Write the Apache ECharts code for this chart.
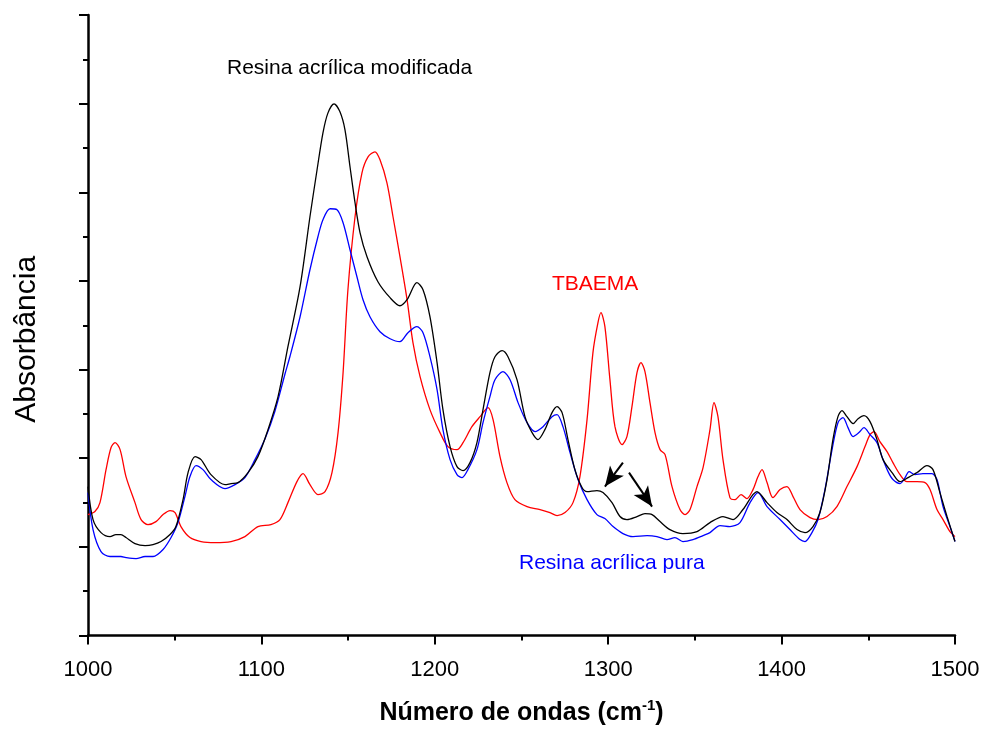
<!DOCTYPE html>
<html>
<head>
<meta charset="utf-8">
<title>FTIR</title>
<script src="https://cdn.jsdelivr.net/npm/echarts@6/dist/echarts.min.js"></script>
<style>
  html, body { margin: 0; padding: 0; background: #fff; }
  #chart { width: 984px; height: 731px; }
</style>
</head>
<body>
<div id="chart"></div>
<script>
// resina acrilica modificada (preto)
var modWave = [1000, 1002.9, 1007.5, 1012.7, 1016.1, 1019.0, 1021.9, 1027.1, 1032.9, 1037.5, 1042.1, 1047.3, 1050.7, 1054.8, 1057.7, 1061.7, 1065.2, 1070.9, 1079.0, 1082.5, 1086.5, 1092.3, 1098.0, 1103.8, 1109.6, 1115.3, 1122.3, 1128.0, 1132.1, 1135.5, 1138.4, 1141.9, 1145.3, 1148.2, 1151.1, 1154.0, 1156.9, 1160.9, 1167.2, 1174.2, 1179.9, 1184.0, 1189.7, 1193.2, 1197.2, 1201.3, 1204.7, 1208.8, 1212.8, 1216.3, 1220.3, 1224.3, 1227.8, 1231.8, 1234.7, 1238.8, 1242.2, 1247.4, 1252.0, 1256.1, 1259.5, 1263.5, 1267.6, 1270.5, 1273.4, 1276.8, 1280.8, 1284.9, 1287.8, 1293.5, 1297.0, 1302.2, 1306.8, 1310.8, 1316.6, 1321.2, 1325.3, 1329.9, 1335.6, 1343.1, 1351.2, 1358.7, 1366.2, 1372.0, 1377.7, 1385.8, 1391.6, 1397.3, 1403.1, 1408.9, 1413.5, 1418.1, 1422.1, 1426.2, 1429.6, 1432.5, 1434.8, 1437.7, 1441.2, 1444.1, 1447.5, 1451.0, 1455.0, 1458.5, 1463.7, 1468.3, 1472.9, 1478.1, 1483.8, 1487.3, 1491.3, 1495.4, 1500];
var modAbs = [1.680, 1.308, 1.161, 1.116, 1.139, 1.139, 1.105, 1.037, 1.015, 1.026, 1.060, 1.139, 1.229, 1.533, 1.838, 2.018, 1.984, 1.815, 1.702, 1.714, 1.725, 1.838, 2.018, 2.322, 2.694, 3.258, 3.935, 4.724, 5.254, 5.671, 5.896, 5.998, 5.908, 5.705, 5.288, 4.882, 4.543, 4.273, 3.991, 3.811, 3.720, 3.788, 3.980, 3.901, 3.596, 3.078, 2.548, 2.131, 1.905, 1.860, 1.950, 2.176, 2.548, 2.965, 3.145, 3.213, 3.145, 2.886, 2.469, 2.289, 2.210, 2.322, 2.514, 2.582, 2.514, 2.210, 1.871, 1.669, 1.623, 1.635, 1.612, 1.499, 1.342, 1.308, 1.342, 1.375, 1.364, 1.285, 1.195, 1.150, 1.172, 1.274, 1.342, 1.308, 1.421, 1.623, 1.499, 1.387, 1.308, 1.195, 1.161, 1.229, 1.387, 1.759, 2.210, 2.469, 2.537, 2.469, 2.390, 2.446, 2.480, 2.413, 2.210, 1.984, 1.838, 1.736, 1.781, 1.838, 1.917, 1.871, 1.612, 1.342, 1.060];

// resina acrilica pura (azul)
var pureWave = [1000, 1002.9, 1007.5, 1012.7, 1019.0, 1021.9, 1027.7, 1032.9, 1037.5, 1043.3, 1047.9, 1051.9, 1055.9, 1058.8, 1062.3, 1066.3, 1070.9, 1079.0, 1084.8, 1090.5, 1096.3, 1102.1, 1107.8, 1113.6, 1116.5, 1122.3, 1128.0, 1132.6, 1135.5, 1139.6, 1143.6, 1147.1, 1151.1, 1155.1, 1158.6, 1162.6, 1168.4, 1174.2, 1179.9, 1184.5, 1189.7, 1193.2, 1197.2, 1201.3, 1204.7, 1208.8, 1212.8, 1215.7, 1219.1, 1224.3, 1227.8, 1231.8, 1234.7, 1239.3, 1243.4, 1248.0, 1253.2, 1257.8, 1262.4, 1267.6, 1270.5, 1273.9, 1278.0, 1282.6, 1287.8, 1293.5, 1298.1, 1302.8, 1308.5, 1314.3, 1322.4, 1328.1, 1333.9, 1338.5, 1343.1, 1348.9, 1354.7, 1358.7, 1364.5, 1370.2, 1376.0, 1381.8, 1386.4, 1391.6, 1399.1, 1404.8, 1410.6, 1413.5, 1417.5, 1421.0, 1425.0, 1429.1, 1432.5, 1435.4, 1438.3, 1441.2, 1444.6, 1447.5, 1451.0, 1455.0, 1457.9, 1461.4, 1464.2, 1468.3, 1471.2, 1473.5, 1476.9, 1481.5, 1486.7, 1489.6, 1493.1, 1497.1, 1500];
var pureAbs = [1.612, 1.195, 0.947, 0.891, 0.891, 0.879, 0.868, 0.891, 0.891, 0.970, 1.105, 1.274, 1.567, 1.793, 1.917, 1.871, 1.759, 1.657, 1.702, 1.781, 1.984, 2.220, 2.530, 2.950, 3.150, 3.596, 4.126, 4.498, 4.690, 4.814, 4.803, 4.656, 4.352, 4.047, 3.788, 3.596, 3.427, 3.348, 3.315, 3.416, 3.484, 3.416, 3.145, 2.773, 2.322, 1.984, 1.815, 1.781, 1.871, 2.097, 2.401, 2.694, 2.886, 2.976, 2.886, 2.627, 2.401, 2.300, 2.356, 2.469, 2.492, 2.356, 2.063, 1.759, 1.533, 1.364, 1.319, 1.229, 1.150, 1.116, 1.127, 1.116, 1.082, 1.105, 1.060, 1.082, 1.127, 1.161, 1.240, 1.229, 1.274, 1.499, 1.612, 1.454, 1.308, 1.195, 1.082, 1.060, 1.161, 1.308, 1.646, 2.097, 2.401, 2.458, 2.345, 2.244, 2.289, 2.345, 2.266, 2.176, 2.018, 1.849, 1.759, 1.714, 1.781, 1.849, 1.815, 1.826, 1.826, 1.759, 1.454, 1.229, 1.060];

// TBAEMA (vermelho)
var tbaWave = [1000, 1004.0, 1006.9, 1010.4, 1013.3, 1015.6, 1018.5, 1021.9, 1027.1, 1030.6, 1034.6, 1039.2, 1043.3, 1047.3, 1050.2, 1053.6, 1058.8, 1065.2, 1073.2, 1082.5, 1090.5, 1098.0, 1105.5, 1110.7, 1115.3, 1120.5, 1124.0, 1128.0, 1132.6, 1136.7, 1140.7, 1144.2, 1147.1, 1149.9, 1154.0, 1158.0, 1161.5, 1165.5, 1168.4, 1172.4, 1175.9, 1179.9, 1184.0, 1187.4, 1191.5, 1197.2, 1203.0, 1207.6, 1212.8, 1216.3, 1221.4, 1226.1, 1230.7, 1233.6, 1237.6, 1241.6, 1246.2, 1253.2, 1260.7, 1266.4, 1270.5, 1275.1, 1279.7, 1283.7, 1287.8, 1291.2, 1294.1, 1295.8, 1298.1, 1301.0, 1303.9, 1308.0, 1310.8, 1313.7, 1316.6, 1318.9, 1321.2, 1324.1, 1327.0, 1329.9, 1332.8, 1336.8, 1341.4, 1344.3, 1347.2, 1351.2, 1354.7, 1358.7, 1361.0, 1363.3, 1366.2, 1370.2, 1373.1, 1376.6, 1380.0, 1383.5, 1386.4, 1388.7, 1391.6, 1395.0, 1399.1, 1403.1, 1406.6, 1410.6, 1416.4, 1421.0, 1426.2, 1431.9, 1437.7, 1443.5, 1448.1, 1451.0, 1453.3, 1456.7, 1460.8, 1464.2, 1468.3, 1472.3, 1478.1, 1482.7, 1485.6, 1489.6, 1493.1, 1497.1, 1500];
var tbaAbs = [1.364, 1.398, 1.499, 1.871, 2.120, 2.176, 2.097, 1.793, 1.499, 1.308, 1.251, 1.285, 1.364, 1.409, 1.387, 1.229, 1.105, 1.060, 1.048, 1.060, 1.116, 1.229, 1.251, 1.308, 1.499, 1.736, 1.826, 1.702, 1.590, 1.623, 1.838, 2.289, 2.965, 3.901, 4.724, 5.220, 5.400, 5.457, 5.366, 5.107, 4.724, 4.273, 3.788, 3.303, 2.920, 2.548, 2.289, 2.131, 2.097, 2.176, 2.356, 2.469, 2.570, 2.435, 2.018, 1.725, 1.533, 1.454, 1.421, 1.387, 1.353, 1.387, 1.499, 1.793, 2.435, 3.191, 3.529, 3.642, 3.484, 2.886, 2.356, 2.153, 2.244, 2.582, 2.965, 3.078, 2.976, 2.627, 2.289, 2.097, 2.041, 1.680, 1.421, 1.364, 1.421, 1.680, 1.894, 2.322, 2.627, 2.469, 1.984, 1.556, 1.533, 1.590, 1.545, 1.646, 1.793, 1.871, 1.725, 1.556, 1.646, 1.680, 1.567, 1.421, 1.330, 1.308, 1.342, 1.454, 1.680, 1.905, 2.131, 2.266, 2.300, 2.187, 2.074, 1.950, 1.815, 1.736, 1.736, 1.725, 1.646, 1.421, 1.308, 1.172, 1.116];

var xTicks = [1000, 1100, 1200, 1300, 1400, 1500];

// setas apontando os ombros da resina modificada
var arrow1 = [[1308.5, 1.950], [1298.1, 1.680]];
var arrow2 = [[1312.0, 1.838], [1325.3, 1.454]];

function pairs(xs, ys) {
  var out = [];
  for (var i = 0; i < xs.length; i++) {
    out.push([xs[i], ys[i]]);
  }
  return out;
}

var font = 'Liberation Sans, Arial, sans-serif';
var chart = echarts.init(document.getElementById('chart'), null, { renderer: 'canvas' });

chart.setOption({
  animation: false,
  backgroundColor: '#fff',
  grid: {
    left: 88,
    right: 29,
    top: 15,
    bottom: 95,
    containLabel: false
  },
  xAxis: {
    type: 'value',
    min: xTicks[0],
    max: xTicks[xTicks.length - 1],
    interval: 100,
    name: '{b|Número de ondas (cm}{s|-1}{b|)}',
    nameLocation: 'middle',
    nameGap: 63,
    nameTextStyle: {
      rich: {
        b: { fontFamily: font, fontSize: 25, fontWeight: 'bold', color: '#000', lineHeight: 30 },
        s: { fontFamily: font, fontSize: 15, fontWeight: 'bold', color: '#000', verticalAlign: 'top', lineHeight: 30, padding: [0, 0, 10, 0] }
      }
    },
    axisLine: { lineStyle: { color: '#000', width: 2.5 } },
    axisTick: { inside: false, length: 9, lineStyle: { color: '#000', width: 2 } },
    minorTick: { show: true, splitNumber: 2, length: 5, lineStyle: { color: '#000', width: 2 } },
    axisLabel: {
      color: '#000', fontFamily: font, fontSize: 22, margin: 23,
      formatter: function (v) { return String(v); }
    },
    splitLine: { show: false }
  },
  yAxis: {
    type: 'value',
    min: 0,
    max: 7,
    interval: 1,
    name: 'Absorbância',
    nameLocation: 'middle',
    nameGap: 46,
    nameTextStyle: { fontFamily: font, fontSize: 30, color: '#000', padding: [0, 28, 0, 0] },
    axisLine: { show: true, lineStyle: { color: '#000', width: 2.5 } },
    axisTick: { show: true, inside: false, length: 9, lineStyle: { color: '#000', width: 2 } },
    minorTick: { show: true, splitNumber: 2, length: 5, lineStyle: { color: '#000', width: 2 } },
    axisLabel: { show: false },
    splitLine: { show: false }
  },
  series: [
    {
      name: 'TBAEMA',
      type: 'line',
      data: pairs(tbaWave, tbaAbs),
      showSymbol: false,
      smooth: 0.3,
      lineStyle: { color: '#ff0000', width: 1.3 },
      z: 2
    },
    {
      name: 'Resina acrílica pura',
      type: 'line',
      data: pairs(pureWave, pureAbs),
      showSymbol: false,
      smooth: 0.3,
      lineStyle: { color: '#0000ff', width: 1.3 },
      z: 3
    },
    {
      name: 'Resina acrílica modificada',
      type: 'line',
      data: pairs(modWave, modAbs),
      showSymbol: false,
      smooth: 0.3,
      lineStyle: { color: '#000', width: 1.3 },
      z: 4,
      markLine: {
        silent: true,
        symbol: ['none', 'arrow'],
        symbolSize: [13, 20],
        label: { show: false },
        lineStyle: { color: '#000', width: 2, type: 'solid' },
        data: [
          [{ coord: arrow1[0] }, { coord: arrow1[1] }],
          [{ coord: arrow2[0] }, { coord: arrow2[1] }]
        ]
      }
    }
  ],
  graphic: [
    {
      type: 'text', x: 227, y: 68,
      style: { text: 'Resina acrílica modificada', font: '21px ' + font, fill: '#000', verticalAlign: 'middle' }
    },
    {
      type: 'text', x: 552, y: 284,
      style: { text: 'TBAEMA', font: '21px ' + font, fill: '#ff0000', verticalAlign: 'middle' }
    },
    {
      type: 'text', x: 519, y: 563,
      style: { text: 'Resina acrílica pura', font: '21px ' + font, fill: '#0000ff', verticalAlign: 'middle' }
    }
  ]
});
</script>
</body>
</html>
